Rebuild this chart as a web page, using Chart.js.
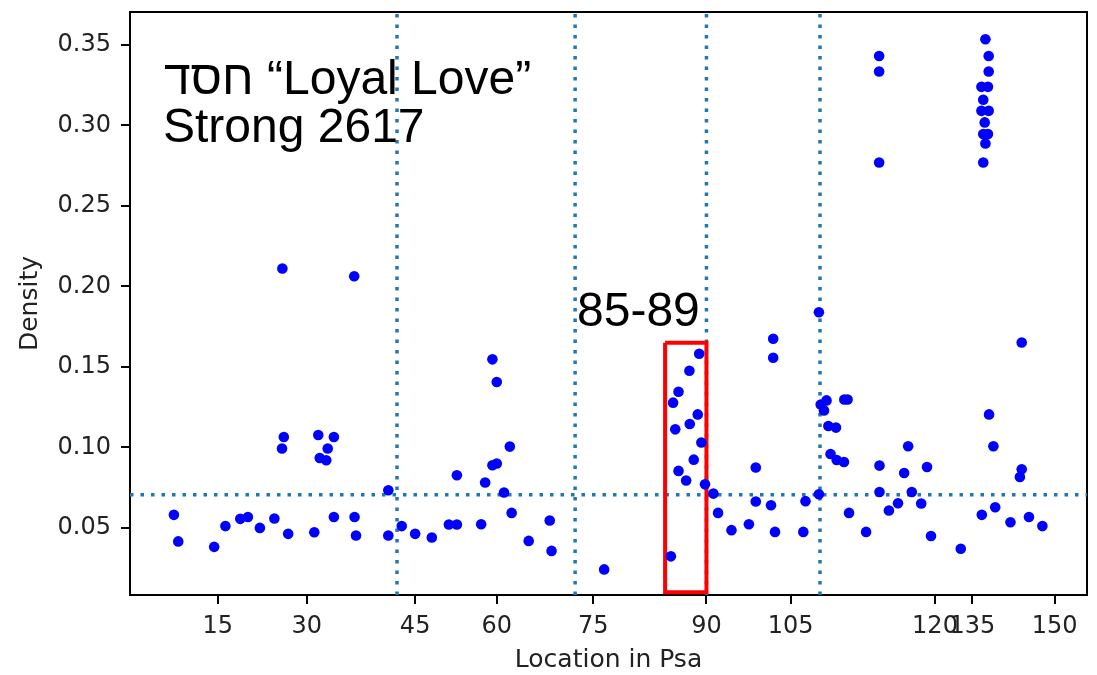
<!DOCTYPE html>
<html>
<head>
<meta charset="utf-8">
<script src="https://cdn.jsdelivr.net/npm/chart.js@4.4.1/dist/chart.umd.min.js"></script>
<style>
  html, body { margin: 0; padding: 0; background: #fff; }
  #wrap { width: 1097px; height: 675px; }
</style>
</head>
<body>
<div id="wrap"><canvas id="psaChart" width="1097" height="675"></canvas></div>
<script>
// x = running verse position through the Psalter, y = density of the word
const versePos = [
  27, 39, 138, 169, 210, 231, 264, 304, 325, 326, 330, 342, 414, 425, 429, 447, 451, 468, 468, 524,
  525, 529, 618, 618, 655, 692, 738, 785, 807, 807, 874, 885, 905, 905, 917, 917, 937, 953, 958, 1005,
  1063, 1068, 1213, 1397, 1403, 1409, 1418, 1418, 1439, 1448, 1449, 1460, 1471, 1475, 1481, 1491, 1514, 1527, 1564, 1612,
  1631, 1631, 1673, 1679, 1679, 1684, 1762, 1768, 1805, 1805, 1810, 1819, 1826, 1831, 1837, 1852, 1854, 1874, 1875, 1884,
  1888, 1935, 1971, 1971, 1971, 1972, 1972, 1998, 2023, 2040, 2051, 2061, 2087, 2103, 2114, 2196, 2253, 2253, 2254, 2258,
  2258, 2258, 2262, 2264, 2264, 2271, 2271, 2273, 2273, 2273, 2274, 2286, 2291, 2333, 2359, 2364, 2364, 2384, 2421
];
const density = [
  0.0581, 0.0416, 0.0382, 0.0511, 0.0556, 0.0568, 0.0500, 0.0558, 0.0993, 0.2111, 0.1065, 0.0463, 0.0473, 0.1077, 0.0934, 0.0920, 0.0993, 0.1065, 0.0568, 0.2063,
  0.0568, 0.0453, 0.0734, 0.0453, 0.0511, 0.0463, 0.0440, 0.0521, 0.0521, 0.0827, 0.0523, 0.0782, 0.1547, 0.0889, 0.1406, 0.0900, 0.0720, 0.1005, 0.0593, 0.0419,
  0.0546, 0.0357, 0.0242, 0.0323, 0.1278, 0.1112, 0.1346, 0.0854, 0.0794, 0.1476, 0.1145, 0.0924, 0.1205, 0.1582, 0.1030, 0.0771, 0.0713, 0.0593, 0.0486, 0.0523,
  0.0875, 0.0664, 0.0641, 0.1675, 0.1557, 0.0475, 0.0475, 0.0666, 0.1840, 0.0709, 0.1266, 0.1230, 0.1292, 0.1133, 0.0959, 0.1123, 0.0922, 0.0909, 0.1298, 0.1298,
  0.0593, 0.0475, 0.3432, 0.3335, 0.2770, 0.0887, 0.0723, 0.0608, 0.0653, 0.0841, 0.1007, 0.0723, 0.0651, 0.0878, 0.0450, 0.0370, 0.3240, 0.3091, 0.0581, 0.3160,
  0.2947, 0.2770, 0.3019, 0.3536, 0.2888, 0.3240, 0.2947, 0.3432, 0.3335, 0.3091, 0.1205, 0.1007, 0.0628, 0.0535, 0.0816, 0.1652, 0.0864, 0.0568, 0.0511
];

// psalm numbers shown on the x axis, at the verse position where each psalm starts
const psalmTickPos = [148, 393, 692, 917, 1183, 1495, 1727, 2125, 2228, 2455];
const psalmTickLabels = ['15', '30', '45', '60', '75', '90', '105', '120', '135', '150'];
const densityTicks = [0.05, 0.10, 0.15, 0.20, 0.25, 0.30, 0.35];

// start of books II..V (Ps 42, 73, 90, 107) and the mean density
const bookStarts = [642, 1133, 1495, 1808];
const meanDensity = 0.0706;

// highlighted range Ps 85-89
const boxX = [1381, 1495];
const boxY = [0.01, 0.165];

const xRange = [-94, 2544];
const yRange = [0.0083, 0.3705];

const titleLines = ['חסד “Loyal Love”', 'Strong 2617'];
const boxLabel = '85-89';

const DOT_BLUE = '#1f77b4';

const points = versePos.map((v, i) => ({ x: v, y: density[i] }));

const bookLineSets = bookStarts.map(v => ({
  type: 'line',
  data: [{ x: v, y: yRange[0] }, { x: v, y: yRange[1] }],
  borderColor: DOT_BLUE,
  borderWidth: 3.5,
  borderDash: [3.5, 7],
  pointRadius: 0,
  fill: false,
  order: 2
}));

const meanLineSet = {
  type: 'line',
  data: [{ x: xRange[0], y: meanDensity }, { x: xRange[1], y: meanDensity }],
  borderColor: DOT_BLUE,
  borderWidth: 3.5,
  borderDash: [3.5, 7],
  pointRadius: 0,
  fill: false,
  order: 2
};

const boxSet = {
  type: 'line',
  data: [
    { x: boxX[0], y: boxY[1] }, { x: boxX[1], y: boxY[1] },
    { x: boxX[1], y: boxY[0] }, { x: boxX[0], y: boxY[0] },
    { x: boxX[0], y: boxY[1] }
  ],
  borderColor: '#ff0000',
  borderWidth: 4,
  borderJoinStyle: 'miter',
  pointRadius: 0,
  fill: false,
  order: 1
};

// frame round the plot + the text labels
const framePlugin = {
  id: 'frame',
  beforeDatasetsDraw(chart) {
    const { ctx, chartArea: a } = chart;
    ctx.save();
    ctx.strokeStyle = '#000';
    ctx.lineWidth = 2;
    ctx.strokeRect(a.left, a.top, a.right - a.left, a.bottom - a.top);
    ctx.restore();
  },
  afterDraw(chart) {
    const { ctx, chartArea: a } = chart;
    ctx.save();
    ctx.fillStyle = '#000';
    ctx.font = '48px "Liberation Sans", Arial, sans-serif';
    ctx.textAlign = 'left';
    ctx.textBaseline = 'alphabetic';
    ctx.fillText(titleLines[0], a.left + 34, a.top + 82);
    ctx.fillText(titleLines[1], a.left + 33, a.top + 130);
    ctx.fillText(boxLabel, a.left + 447, a.top + 314);
    ctx.restore();
  }
};

const tickFont = { family: 'DejaVu Sans', size: 24 };
const titleFont = { family: 'DejaVu Sans', size: 25 };

new Chart(document.getElementById('psaChart'), {
  type: 'scatter',
  data: {
    datasets: [
      {
        data: points,
        pointRadius: 5.3,
        pointBackgroundColor: '#0000ff',
        pointBorderColor: '#0000ff',
        pointBorderWidth: 0,
        order: 0
      },
      ...bookLineSets,
      meanLineSet,
      boxSet
    ]
  },
  options: {
    responsive: false,
    devicePixelRatio: 1,
    animation: false,
    layout: { padding: { top: 12, right: 10, left: 0, bottom: 0 } },
    plugins: { legend: { display: false }, tooltip: { enabled: false } },
    scales: {
      x: {
        type: 'linear',
        min: xRange[0],
        max: xRange[1],
        afterFit: s => { s.height = 80; s.paddingLeft = 0; s.paddingRight = 0; },
        afterBuildTicks: s => { s.ticks = psalmTickPos.map(v => ({ value: v })); },
        ticks: {
          autoSkip: false,
          maxRotation: 0,
          padding: 8,
          color: '#222',
          font: tickFont,
          callback: (v, i) => psalmTickLabels[i]
        },
        grid: { drawOnChartArea: false, color: '#000', lineWidth: 2, tickLength: 9 },
        border: { display: true, color: '#000', width: 2 },
        title: { display: true, text: 'Location in Psa', color: '#222', font: titleFont, padding: { top: 0, bottom: 0 } }
      },
      y: {
        type: 'linear',
        min: yRange[0],
        max: yRange[1],
        afterFit: s => { s.width = 130; s.paddingTop = 0; s.paddingBottom = 0; },
        afterBuildTicks: s => { s.ticks = densityTicks.map(v => ({ value: v })); },
        ticks: {
          padding: 10,
          color: '#222',
          font: tickFont,
          callback: v => v.toFixed(2)
        },
        grid: { drawOnChartArea: false, color: '#000', lineWidth: 2, tickLength: 9 },
        border: { display: true, color: '#000', width: 2 },
        title: { display: true, text: 'Density', color: '#222', font: titleFont, padding: { top: 15, bottom: 0 } }
      }
    }
  },
  plugins: [framePlugin]
});
</script>
</body>
</html>
